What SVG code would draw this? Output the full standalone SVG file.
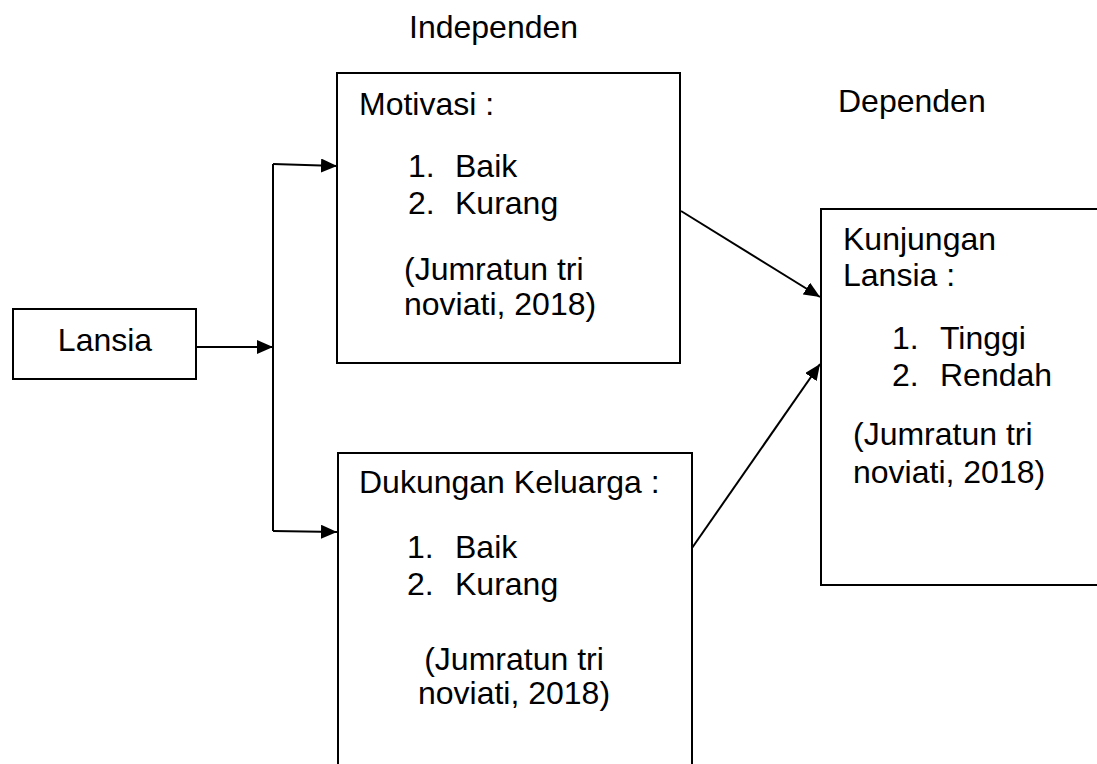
<svg xmlns="http://www.w3.org/2000/svg" width="1097" height="764" viewBox="0 0 1097 764">
<style>
text{font-family:"Liberation Sans",Arial,sans-serif;font-size:32px;fill:#000}
.box{fill:#fff;stroke:#000;stroke-width:2}
.c{fill:none;stroke:#000;stroke-width:2}
.m{text-anchor:middle}
</style>
<defs>
<marker id="ah" markerUnits="userSpaceOnUse" markerWidth="16" markerHeight="14" refX="16" refY="7" orient="auto">
<path d="M0,0 L16,7 L0,14 Z" fill="#000"/>
</marker>
</defs>
<rect width="1097" height="764" fill="#fff"/>
<text x="409" y="38">Independen</text>
<text x="838" y="112">Dependen</text>
<g id="lansia">
<rect class="box" x="13" y="309" width="183" height="70"/>
<text class="m" x="105" y="351">Lansia</text>
</g>
<g id="motivasi">
<rect class="box" x="337" y="73" width="343" height="290"/>
<text x="359" y="115">Motivasi :</text>
<text x="408" y="177">1.</text><text x="455" y="177">Baik</text>
<text x="408" y="214">2.</text><text x="455" y="214">Kurang</text>
<text x="404" y="280">(Jumratun tri</text>
<text x="404" y="315">noviati, 2018)</text>
</g>
<g id="dukungan">
<rect class="box" x="338" y="453" width="354" height="320"/>
<text x="359" y="493">Dukungan Keluarga :</text>
<text x="407" y="558">1.</text><text x="455" y="558">Baik</text>
<text x="407" y="595">2.</text><text x="455" y="595">Kurang</text>
<text class="m" x="514" y="670">(Jumratun tri</text>
<text class="m" x="514" y="704">noviati, 2018)</text>
</g>
<g id="kunjungan">
<rect class="box" x="821" y="209" width="290" height="376"/>
<text x="843" y="250">Kunjungan</text>
<text x="843" y="286">Lansia :</text>
<text x="892" y="349">1.</text><text x="940" y="349">Tinggi</text>
<text x="892" y="386">2.</text><text x="940" y="386">Rendah</text>
<text x="853" y="445">(Jumratun tri</text>
<text x="853" y="483">noviati, 2018)</text>
</g>
<g id="connectors">
<path class="c" d="M196,347 L273,347" marker-end="url(#ah)"/>
<path class="c" d="M273,164 L273,531"/>
<path class="c" d="M273,164 L337,166" marker-end="url(#ah)"/>
<path class="c" d="M273,531 L337,532" marker-end="url(#ah)"/>
<path class="c" d="M681,211 L820,297" marker-end="url(#ah)"/>
<path class="c" d="M692,548 L820,364" marker-end="url(#ah)"/>
</g>
</svg>
